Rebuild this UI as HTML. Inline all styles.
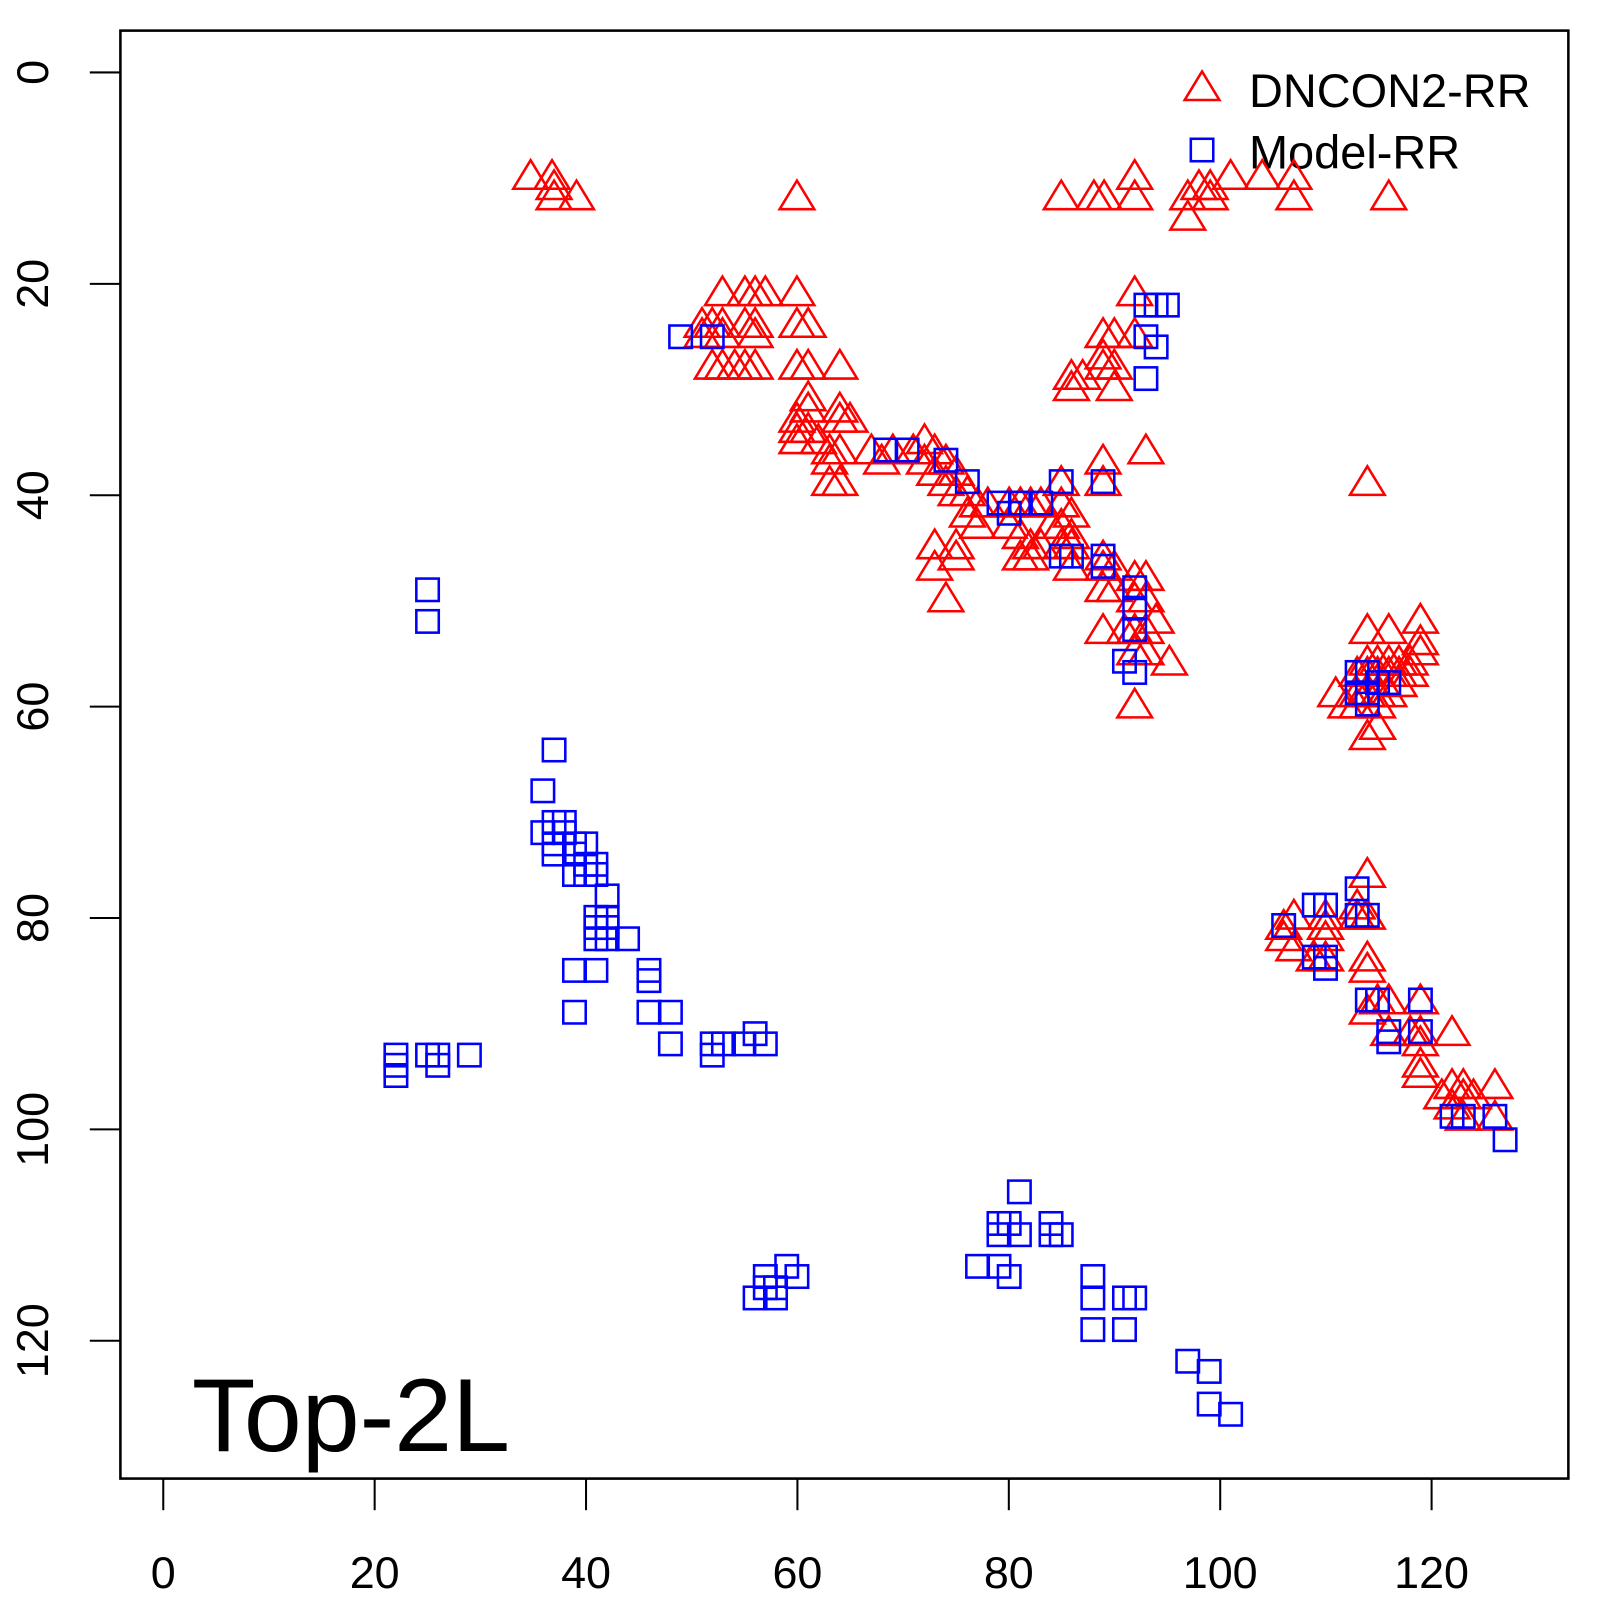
<!DOCTYPE html><html><head><style>body{margin:0;background:#fff}svg{display:block}text{font-family:"Liberation Sans",sans-serif}</style></head><body>
<svg id="s" width="1600" height="1600" viewBox="0 0 1568 1568" xmlns="http://www.w3.org/2000/svg">
<rect x="118" y="30" width="1419" height="1419" fill="none" stroke="#000" stroke-width="2.5"/>
<g id="ax" stroke="#000" stroke-width="2"></g>
<g id="lab" font-size="44" fill="#000"></g>
<text x="188" y="1422" font-size="102">Top-2L</text>
<polygon points="1178,70 1161,98 1195,98" fill="none" stroke="#f00" stroke-width="2.5"/>
<text x="1224" y="105" font-size="46">DNCON2-RR</text>
<rect x="1167" y="136" width="22" height="22" fill="none" stroke="#00f" stroke-width="2.5"/>
<text x="1224" y="165" font-size="46">Model-RR</text>
<g id="tri" fill="none" stroke="#f00" stroke-width="2.5"></g>
<g id="sq" fill="none" stroke="#00f" stroke-width="2.5"></g>
</svg>
<script>
var NS="http://www.w3.org/2000/svg";
function el(p,t,a,txt){var e=document.createElementNS(NS,t);for(var k in a)e.setAttribute(k,a[k]);if(txt!=null)e.textContent=txt;document.getElementById(p).appendChild(e);}
for(var i=0;i<=6;i++){var v=i*20,p=160+v*10.358;
el("ax","line",{x1:p,y1:1449,x2:p,y2:1480});
el("lab","text",{x:p,y:1556,"text-anchor":"middle"},v);
el("ax","line",{x1:118,y1:71+v*10.358,x2:88,y2:71+v*10.358});
el("lab","text",{x:0,y:0,"text-anchor":"middle",transform:"translate(47,"+(71+v*10.358)+") rotate(-90)"},v);}
el("ax","line",{x1:160,y1:1449,x2:1403,y2:1449});
var T=[[520,172],[541,172],[543,182],[543,192],[565,192],[781,192],[1040,192],[1072,192],[1082,192],[1112,172],[1112,192],[1164,192],[1164,212],[1175,182],[1186,182],[1186,192],[1206,172],[1237,172],[1268,172],[1268,192],[1361,192],
[708,286],[730,286],[740,286],[750,286],[781,286],[688,317],[698,317],[708,317],[730,317],[740,317],[781,317],[792,317],[688,327],[708,327],[740,327],[698,358],[708,358],[720,358],[730,358],[740,358],[781,358],[792,358],[823,358],
[792,389],[792,400],[781,410],[781,420],[781,431],[792,420],[802,431],[823,400],[823,410],[833,410],[813,441],[813,451],[823,441],[823,472],[813,472],[854,441],[875,441],[864,451],[895,441],[906,431],[906,451],[916,441],[916,462],[927,451],[927,472],[937,462],[937,482],[948,482],[948,503],[958,493],[968,493],[958,514],
[916,534],[916,555],[927,586],[937,534],[937,545],[1040,472],[1040,493],[1050,503],[1040,514],[1050,524],[1040,534],[1050,534],[1050,555],[989,493],[1000,493],[1010,493],[1020,493],[989,514],[1000,524],[1010,534],[1020,534],[1030,514],[1000,545],[1010,545],
[1050,368],[1061,368],[1050,379],[1081,327],[1092,327],[1081,348],[1081,358],[1092,358],[1092,379],[1081,451],[1081,472],[1112,286],[1112,327],[1123,441],
[1081,545],[1081,555],[1092,555],[1081,576],[1081,617],[1092,576],[1112,565],[1123,565],[1112,586],[1123,586],[1133,607],[1112,617],[1123,617],[1112,638],[1123,638],[1112,690],[1146,648],[1102,617],
[1340,472],[1340,617],[1361,617],[1392,607],[1392,628],[1340,648],[1350,648],[1361,648],[1371,648],[1382,648],[1392,638],[1330,659],[1340,659],[1350,659],[1361,659],[1371,659],[1382,659],[1309,679],[1330,679],[1340,679],[1350,679],[1361,679],[1371,669],[1319,690],[1330,690],[1350,690],[1340,721],[1350,711],
[1340,856],[1330,887],[1340,897],[1330,897],[1258,907],[1268,897],[1258,918],[1268,928],[1299,897],[1299,907],[1299,918],[1288,938],[1299,938],[1340,938],[1340,949],[1340,990],[1350,980],[1361,980],[1392,980],[1361,1011],[1382,1011],[1392,1011],[1392,1021],[1423,1011],[1392,1042],[1392,1052],[1413,1073],[1423,1063],[1434,1063],[1423,1083],[1434,1073],[1444,1073],[1434,1094],[1465,1063],[1465,1094]];
T.forEach(function(p){var x=p[0],y=p[1];el("tri","polygon",{points:x+","+(y-15)+" "+(x-17)+","+(y+13)+" "+(x+17)+","+(y+13)});});
var S=[[667,330],[698,330],[1123,299],[1133,299],[1144,299],[1123,330],[1133,340],[1123,371],[868,441],[889,441],[927,451],[948,472],[1040,472],[1081,472],[979,493],[1000,493],[1020,493],[989,503],[1040,545],[1050,545],[1081,545],[1081,555],[1112,576],[1112,596],[1112,617],[1102,648],[1112,659],[1330,659],[1340,659],[1340,679],[1340,690],[1350,669],[1330,679],[1361,669],[1330,871],[1330,897],[1340,897],[1288,887],[1299,887],[1258,907],[1288,938],[1299,938],[1299,949],[1340,980],[1350,980],[1361,1011],[1361,1021],[1392,980],[1392,1011],[1465,1094],[1423,1094],[1434,1094],[1475,1117],
[419,578],[419,609],[543,735],[532,775],[532,816],[543,806],[553,806],[543,827],[543,837],[553,816],[563,827],[574,827],[563,837],[574,847],[584,847],[574,857],[563,857],[584,857],[595,878],[584,899],[595,899],[584,909],[595,909],[584,920],[595,920],[615,920],[563,951],[584,951],[636,951],[636,961],[636,992],[563,992],[657,992],[657,1023],[698,1023],[698,1034],[709,1023],[729,1023],[740,1013],[750,1023],[388,1034],[388,1044],[388,1054],[419,1034],[429,1034],[429,1044],[460,1034],
[999,1168],[979,1199],[989,1199],[979,1210],[999,1210],[1030,1199],[1040,1210],[1030,1210],[958,1241],[979,1241],[989,1251],[1071,1251],[1071,1272],[1102,1272],[1112,1272],[1071,1303],[1102,1303],[1164,1334],[1185,1344],[1185,1376],[1206,1386],
[771,1241],[781,1251],[750,1251],[760,1262],[740,1272],[760,1272],[750,1262]];
S.forEach(function(p){el("sq","rect",{x:p[0]-11,y:p[1]-11,width:22,height:22});});
</script></body></html>
